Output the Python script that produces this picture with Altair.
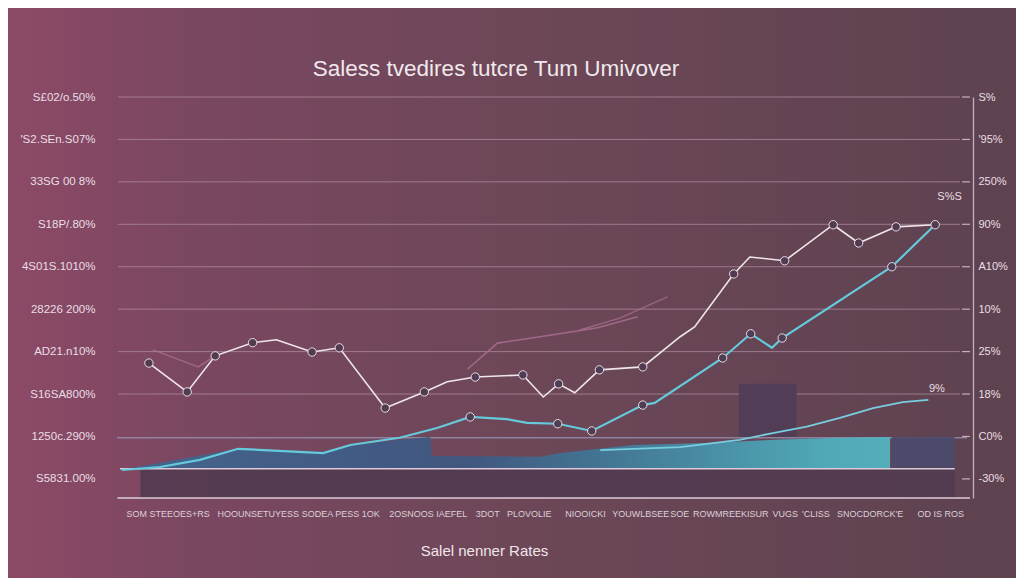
import json
import altair as alt
import pandas as pd

# ---------------- data ----------------
title_text = "Saless tvedires tutcre Tum Umivover"
x_title = "Salel nenner Rates"

tick_values = [0, 10, 20, 30, 40, 50, 60, 70, 80, 90]
left_labels = ["S5831.00%", "1250c.290%", "S16SA800%", "AD21.n10%", "28226 200%",
               "4S01S.1010%", "S18P/.80%", "33SG 00 8%", "'S2.SEn.S07%", "S£02/o.50%"]
right_labels = ["-30%", "C0%", "18%", "25%", "10%", "A10%", "90%", "250%", "'95%", "S%"]

x_label_pos = [5.6, 16.2, 25.9, 36.2, 43.2, 48.1, 54.7, 61.2, 65.8, 71.8, 78.2, 81.8, 88.2, 96.5]
x_label_text = ["SOM STEEOES+RS", "HOOUNSETUYESS", "SODEA PESS 1OK", "2OSNOOS IAEFEL",
                "3DOT", "PLOVOLIE", "NIOOICKI", "YOUWLBSEE", "SOE", "ROWMREEKISUR",
                "VUGS", "'CLISS", "SNOCDORCK'E", "OD IS ROS"]

grid_values = [20, 30, 40, 50, 60, 70, 80, 90]
blue_line_y = [9.7]

# series A (white line)
a_x = [3.4, 7.9, 11.2, 15.6, 18.4, 22.6, 25.8, 31.2, 35.8, 38.5, 41.8, 47.4, 49.8, 51.6, 53.5,
       56.4, 61.5, 65.9, 67.6, 72.2, 74.1, 78.2, 83.9, 86.9, 91.3, 95.9]
a_y = [27.3, 20.5, 29.0, 32.1, 32.8, 29.9, 30.9, 16.7, 20.5, 22.9, 24.0, 24.5, 19.3, 22.4, 20.3,
       25.7, 26.4, 33.5, 35.8, 48.3, 52.3, 51.4, 59.9, 55.6, 59.4, 59.9]
a_dot = ["w", "c", "w", "w", "", "w", "w", "w", "w", "", "c", "c", "", "c", "",
         "c", "w", "", "", "w", "", "w", "w", "w", "w", "w"]

# series B (cyan line)
b_x = [0.2, 4.7, 9.4, 13.9, 23.9, 27.1, 32.9, 37.3, 41.2, 45.5, 47.9, 51.5, 55.5, 61.5, 62.9,
       70.9, 74.2, 76.7, 77.9, 90.8, 95.9]
b_y = [2.1, 2.8, 4.5, 7.1, 6.1, 8.0, 9.7, 12.0, 14.6, 14.1, 13.2, 13.0, 11.3, 17.4, 17.9,
       28.5, 34.2, 30.9, 33.2, 50.0, 59.9]
b_dot = ["", "", "", "", "", "", "", "", "c", "", "", "c", "c", "c", "",
         "c", "c", "", "c", "c", ""]

# series C (light blue curve, lower right)
c_x = [56.5, 65.9, 72.9, 76.8, 80.8, 84.7, 88.6, 92.1, 95.1]
c_y = [6.8, 7.5, 9.2, 10.8, 12.3, 14.4, 16.7, 18.1, 18.6]

# pink faint lines
e0_x = [3.9, 9.2, 11.2]
e0_y = [30.4, 26.4, 29.0]
e1_x = [40.9, 44.4, 49.4, 56.2, 60.9]
e1_y = [25.9, 32.0, 33.5, 35.6, 38.2]
e2_x = [54.1, 58.8, 64.4]
e2_y = [35.1, 37.9, 42.9]

# filled area
d_x = [0.0, 13.9, 23.9, 27.1, 32.9, 36.5, 36.7, 49.4, 51.8, 60.4, 69.8, 76.8, 84.7, 90.6]
d_y = [2.1, 7.1, 6.4, 7.8, 9.2, 9.9, 5.4, 5.2, 6.1, 8.0, 8.5, 9.2, 9.7, 9.9]
d_base = 2.4

# dark blocks
blk_x = [2.4, 72.8, 90.8]
blk_x2 = [98.2, 79.6, 98.2]
blk_y = [-4.5, 9.9, 2.6]
blk_y2 = [2.4, 22.4, 9.9]
blk_kind = ["band", "mid", "right"]

# white base lines
base_y = [2.4, -4.5]
base_x = [0.0, -0.3]
base_x2 = [98.2, 100.0]

# annotations
ann_x = [97.6, 96.1]
ann_y = [66.5, 21.2]
ann_t = ["S%S", "9%"]

# ---------------- chart ----------------
FONT = "Liberation Sans"
TXT = "#eadfe4"

xscale = alt.Scale(domain=[0, 100], nice=False, zero=False)
yscale = alt.Scale(domain=[-4.5, 90], nice=False, zero=False)

x_axis = alt.Axis(
    values=x_label_pos,
    labelExpr="%s[indexof(%s, datum.value)]" % (json.dumps(x_label_text), json.dumps(x_label_pos)),
    domain=False, ticks=False, grid=False, labelOverlap=False, labelFlush=False,
    labelPadding=11, labelFont=FONT, labelFontSize=9, labelColor="#ddd0d8",
    title=x_title, titleFont=FONT, titleFontSize=15, titleFontWeight="normal",
    titleColor="#f0e6ea", titleX=364, titleY=52, titleAlign="center",
    titleBaseline="middle", zindex=1,
)
left_axis = alt.Axis(
    values=tick_values, labelExpr="%s[round(datum.value/10)]" % json.dumps(left_labels),
    orient="left", domain=False, ticks=False, grid=False, labelPadding=25,
    labelFont=FONT, labelFontSize=11.5, labelColor=TXT, title=None, zindex=1,
)
right_axis = alt.Axis(
    values=tick_values, labelExpr="%s[round(datum.value/10)]" % json.dumps(right_labels),
    orient="right", domain=True, domainColor="#c9afbc", domainWidth=1.3, offset=3,
    ticks=False, grid=False, labelPadding=5, labelFont=FONT, labelFontSize=11,
    labelColor=TXT, title=None, zindex=1,
)


def X(f):
    return alt.X(f, type="quantitative", scale=xscale, axis=x_axis)


def Y(f, axis=None):
    return alt.Y(f, type="quantitative", scale=yscale, axis=axis)


bg_grad = alt.Gradient(
    gradient="linear", x1=0, x2=1, y1=0, y2=0,
    stops=[alt.GradientStop(offset=0, color="#8e4a67"),
           alt.GradientStop(offset=0.18, color="#7b4761"),
           alt.GradientStop(offset=0.5, color="#6d4758"),
           alt.GradientStop(offset=1, color="#5d4250")],
)
bg = alt.Chart(pd.DataFrame({"a": [0]})).mark_rect(color=bg_grad).encode(
    x=alt.value(-125), x2=alt.value(915), y=alt.value(-100), y2=alt.value(500)
)

title_mark = alt.Chart(pd.DataFrame({"t": [title_text]})).mark_text(
    font=FONT, fontSize=22.5, color="#f1e8ec", align="center", baseline="alphabetic"
).encode(text="t:N", x=alt.value(376), y=alt.value(-21))

grid = alt.Chart(pd.DataFrame({"v": grid_values})).mark_rule(
    color="#b08c9f", strokeWidth=1, opacity=0.75
).encode(y=Y("v", left_axis), x=alt.value(-2), x2=alt.value(840))

blue = alt.Chart(pd.DataFrame({"v": blue_line_y})).mark_rule(
    color="#9a97b5", strokeWidth=1.3, opacity=0.75
).encode(y=Y("v"), x=alt.value(-3), x2=alt.value(847))

blk_df = pd.DataFrame({"x": blk_x, "x2": blk_x2, "y": blk_y, "y2": blk_y2, "k": blk_kind})
blocks = alt.Chart(blk_df).mark_rect().encode(
    x=X("x"), x2="x2", y=Y("y"), y2="y2",
    color=alt.Color("k:N", scale=alt.Scale(domain=["band", "mid", "right"],
                                           range=["#523b50", "#4f3d56", "#4b4b6c"]), legend=None),
    opacity=alt.value(0.92),
)

area_grad = alt.Gradient(
    gradient="linear", x1=0, x2=1, y1=0, y2=0,
    stops=[alt.GradientStop(offset=0, color="#3f6791"),
           alt.GradientStop(offset=0.45, color="#3d5883"),
           alt.GradientStop(offset=0.62, color="#3f7898"),
           alt.GradientStop(offset=0.92, color="#4eb2c0"),
           alt.GradientStop(offset=1, color="#52b6c3")],
)
area = alt.Chart(pd.DataFrame({"x": d_x, "y": d_y, "b": [d_base] * len(d_x)})).mark_area(
    color=area_grad, opacity=0.92
).encode(x=X("x"), y=Y("y"), y2="b")

base = alt.Chart(pd.DataFrame({"y": base_y, "x": base_x, "x2": base_x2})).mark_rule(
    color="#dccbd6", strokeWidth=1.5
).encode(y=Y("y"), x=X("x"), x2="x2")


def line(xs, ys, color, w, op=1.0):
    return alt.Chart(pd.DataFrame({"x": xs, "y": ys})).mark_line(
        color=color, strokeWidth=w, opacity=op
    ).encode(x=X("x"), y=Y("y"))


e0 = line(e0_x, e0_y, "#a8718f", 1.4, 0.8)
e1 = line(e1_x, e1_y, "#a86b8d", 1.6, 0.9)
e2 = line(e2_x, e2_y, "#a86b8d", 1.4, 0.8)
lc = line(c_x, c_y, "#78cde0", 1.8)
lb = line(b_x, b_y, "#65cadb", 2.2)
la = line(a_x, a_y, "#efe6ea", 1.6)

dots_df = pd.DataFrame({
    "x": a_x + b_x, "y": a_y + b_y, "k": a_dot + b_dot
})
dots_df = dots_df[dots_df["k"] != ""]
dots = alt.Chart(dots_df).mark_circle(size=70, stroke="#e9dde3", strokeWidth=1, opacity=1).encode(
    x=X("x"), y=Y("y"),
    color=alt.Color("k:N", scale=alt.Scale(domain=["w", "c"], range=["#bba5af", "#55c3d4"]),
                    legend=None),
)

ann = alt.Chart(pd.DataFrame({"x": ann_x, "y": ann_y, "t": ann_t})).mark_text(
    color=TXT, font=FONT, fontSize=11
).encode(x=X("x"), y=Y("y"), text="t:N")

rticks = alt.Chart(pd.DataFrame({"v": tick_values})).mark_rule(
    color="#c9afbc", strokeWidth=1.2
).encode(y=Y("v", right_axis), x=alt.value(842), x2=alt.value(850))

chart = alt.layer(
    bg, title_mark, grid, blue, blocks, area, base, e0, e1, e2, lc, lb, la, dots, ann, rticks
).resolve_scale(y="independent").properties(
    width=850, height=401,
    autosize=alt.AutoSizeParams(type="none"),
    padding={"left": 112, "top": 89, "right": 46, "bottom": 80},
    background="#6d4758",
).configure_view(stroke=None)

chart.save("out.html", embed_options={"renderer": "svg", "actions": False})
